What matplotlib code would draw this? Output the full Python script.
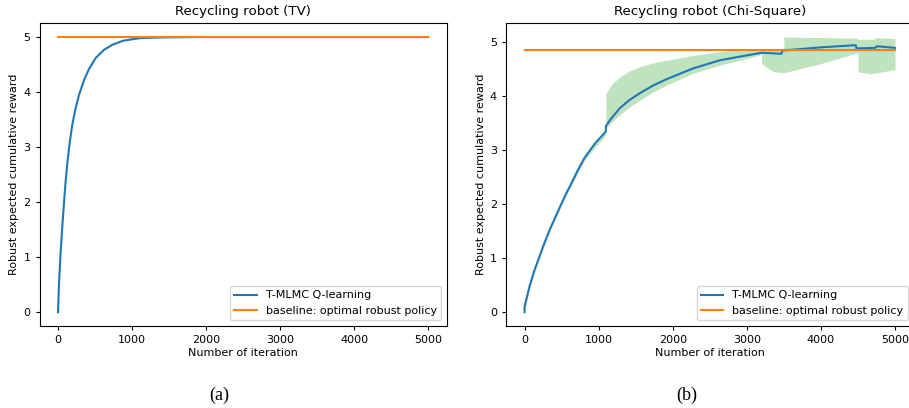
#! python3
# Recycling robot: T-MLMC Q-learning vs the optimal robust policy (TV and Chi-Square)

import matplotlib.pyplot as plt

# (a) TV uncertainty set
tv_iter = [0, 13.5, 35, 58, 81, 103, 126, 157, 193, 238, 284, 352, 419, 509, 622,
           735, 870, 1000, 1114, 1300, 1600, 2000, 5000]
tv_reward = [0.0, 0.53, 1.08, 1.56, 1.99, 2.38, 2.71, 3.07, 3.41, 3.71, 3.95, 4.22,
             4.42, 4.62, 4.77, 4.86, 4.93, 4.96, 4.98, 4.99, 4.997, 5.0, 5.0]
tv_baseline = 5.0

# (b) Chi-Square uncertainty set
chi_iter = [0, 0, 68, 130, 194, 260, 338, 410, 495, 560, 631, 720, 811, 950, 1095,
            1100, 1180, 1284, 1410, 1554, 1730, 1915, 2274, 2635, 2995, 3200, 3468,
            3480, 4000, 4470, 4480, 4730, 4760, 5000]
chi_reward = [0.0, 0.10, 0.48, 0.76, 1.0, 1.25, 1.52, 1.74, 2.0, 2.19, 2.38, 2.63,
              2.86, 3.12, 3.34, 3.45, 3.60, 3.77, 3.92, 4.05, 4.19, 4.31, 4.51, 4.66,
              4.75, 4.80, 4.78, 4.84, 4.90, 4.94, 4.88, 4.89, 4.92, 4.89]
chi_baseline = 4.85

band_iter = [0, 68, 194, 338, 495, 631, 811, 950, 1095, 1100, 1180, 1284, 1410, 1554,
             1730, 1915, 2274, 2635, 2995, 3200, 3200, 3355, 3500, 3500, 4000, 4470,
             4500, 4500, 4650, 4730, 4730, 5000]
band_low = [0.0, 0.46, 0.98, 1.50, 1.97, 2.35, 2.81, 3.05, 3.27, 3.40, 3.52, 3.65,
            3.79, 3.92, 4.07, 4.20, 4.42, 4.57, 4.69, 4.77, 4.60, 4.45, 4.43, 4.43,
            4.60, 4.79, 4.80, 4.45, 4.41, 4.42, 4.42, 4.49]
band_high = [0.10, 0.49, 1.01, 1.53, 2.01, 2.39, 2.88, 3.14, 3.36, 4.05, 4.22, 4.35,
             4.46, 4.54, 4.61, 4.66, 4.75, 4.82, 4.87, 4.88, 4.88, 4.88, 4.88, 5.09,
             5.08, 5.07, 5.06, 5.05, 5.05, 5.05, 5.08, 5.06]

W, H = 909, 408
fig = plt.figure(figsize=(W / 100, H / 100), dpi=100)

ax1 = fig.add_axes([39.5 / W, 82 / H, 407.2 / W, 302.7 / H])
ax2 = fig.add_axes([506 / W, 82 / H, 407.5 / W, 302.7 / H])

ax1.plot(tv_iter, tv_reward, color='tab:blue', lw=1.5, label='T-MLMC Q-learning')
ax1.plot([0, 5000], [tv_baseline, tv_baseline], color='tab:orange', lw=1.5,
         label='baseline: optimal robust policy')
ax1.set_title('Recycling robot (TV)', fontsize=9.6)

ax2.fill_between(band_iter, band_low, band_high, color='tab:green', alpha=0.3, lw=0)
ax2.plot(chi_iter, chi_reward, color='tab:blue', lw=1.5, label='T-MLMC Q-learning')
ax2.plot([0, 5000], [chi_baseline, chi_baseline], color='tab:orange', lw=1.5,
         label='baseline: optimal robust policy')
ax2.set_title('Recycling robot (Chi-Square)', fontsize=9.6)

for ax in (ax1, ax2):
    ax.set_xlabel('Number of iteration', fontsize=8, labelpad=2)
    ax.set_ylabel('Robust expected cumulative reward', fontsize=8, labelpad=3)
    ax.set_xticks([0, 1000, 2000, 3000, 4000, 5000])
    ax.set_yticks([0, 1, 2, 3, 4, 5])
    ax.tick_params(labelsize=8, length=3)
    ax.legend(loc='lower right', fontsize=8)

fig.text(219 / W, 1 - 395 / H, '(a)', family='Liberation Serif', fontsize=13,
         ha='center', va='center')
fig.text(687 / W, 1 - 395 / H, '(b)', family='Liberation Serif', fontsize=13,
         ha='center', va='center')

plt.savefig('out.png', dpi=100)
